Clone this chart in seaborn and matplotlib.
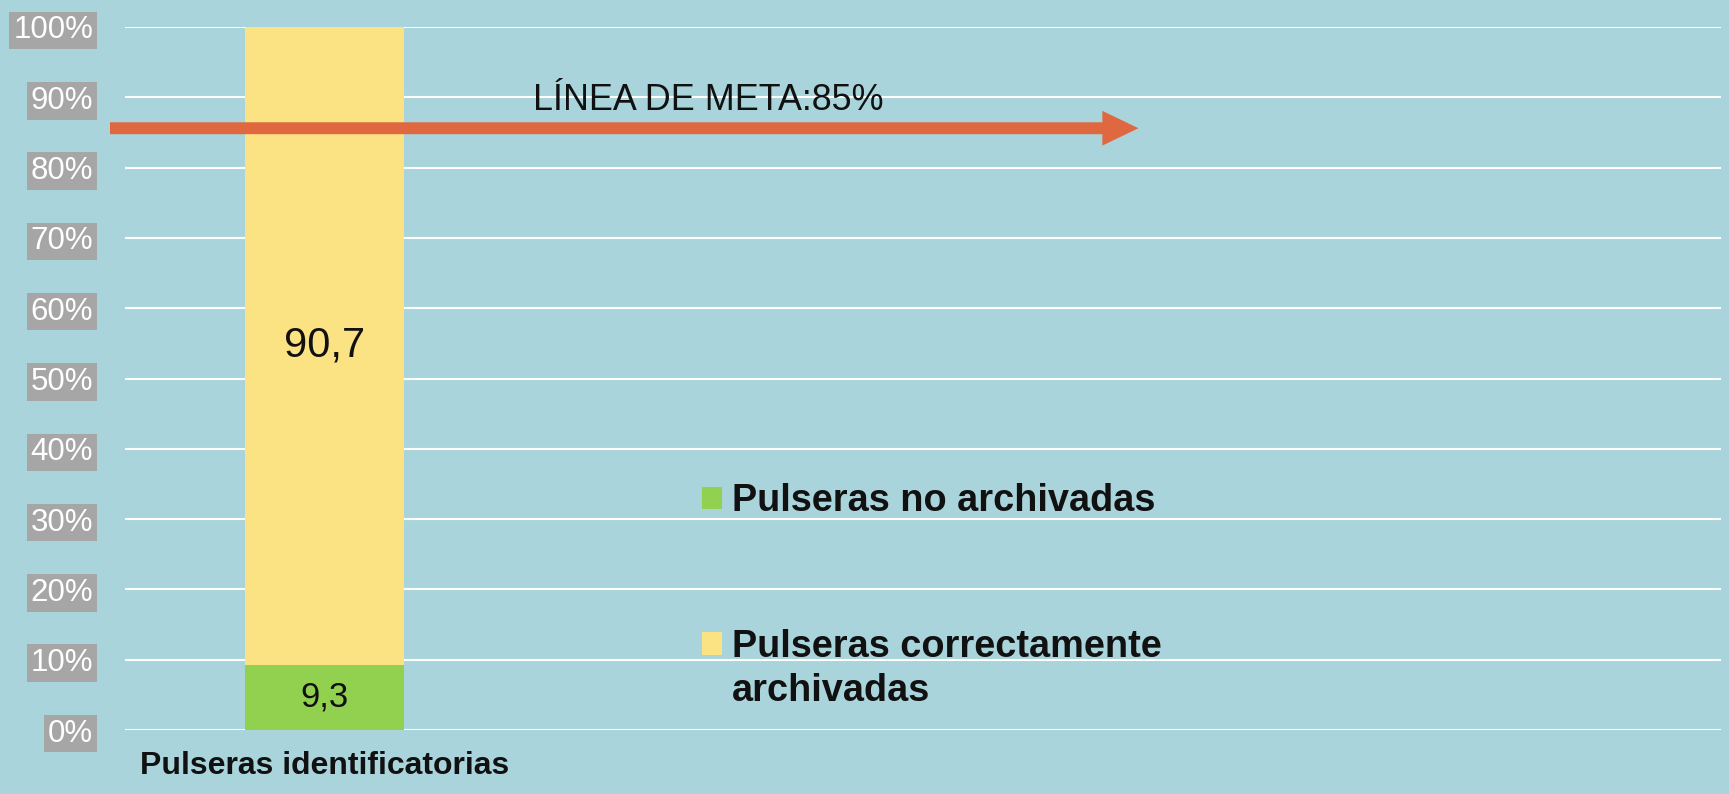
import matplotlib

matplotlib.use("Agg")
import matplotlib.pyplot as plt
import pandas as pd
import seaborn as sns
from matplotlib.patches import Patch

# data
categoria = ["Pulseras identificatorias"]
no_archivadas = [9.3]
archivadas = [90.7]
leyenda = ["Pulseras no archivadas", "Pulseras correctamente", "archivadas"]
meta = 85
meta_flecha = 85.6          # where the arrow sits in the picture
y_ticks = list(range(0, 101, 10))

BG, GREEN, YELLOW = "#aad4db", "#92d050", "#fbe283"
ORANGE, GREY, INK = "#e06840", "#a6a6a6", "#111111"

sns.set_theme(style="whitegrid")
plt.rcParams["font.family"] = ["Liberation Sans", "DejaVu Sans"]

df = pd.DataFrame({"categoria": categoria, "no": no_archivadas, "si": archivadas})
df["total"] = df["no"] + df["si"]

W, H = 1729, 794
fig = plt.figure(figsize=(W / 100, H / 100), dpi=100, facecolor=BG)
ax = fig.add_axes([125 / W, 1 - 730 / H, (1721 - 125) / W, (730 - 27) / H])
ax.set_facecolor(BG)

# stacked bar: total in yellow, green segment drawn over it
sns.barplot(data=df, x="categoria", y="total", color=YELLOW, width=0.2,
            saturation=1, errorbar=None, linewidth=0, ax=ax, zorder=3)
sns.barplot(data=df, x="categoria", y="no", color=GREEN, width=0.2,
            saturation=1, errorbar=None, linewidth=0, ax=ax, zorder=3)

ax.set_xlim(-0.25, 1.75)
ax.set_ylim(0, 100)
ax.set_axisbelow(True)
ax.yaxis.grid(True, color="white", lw=1.5)
ax.xaxis.grid(False)
for s in ax.spines.values():
    s.set_visible(False)

def coma(v):
    return f"{v:.1f}".replace(".", ",")

for i, (n, s) in enumerate(zip(df["no"], df["si"])):
    ax.text(i, n / 2, coma(n), ha="center", va="center", fontsize=25, color=INK, zorder=4)
    ax.text(i, n + s / 2, coma(s), ha="center", va="center", fontsize=30, color=INK, zorder=4)

# axes
ax.set_yticks(y_ticks)
ax.set_yticklabels([f"{t}%" for t in y_ticks])
ax.tick_params(axis="y", length=0, pad=23, labelsize=22.5, labelcolor="white")
for lbl in ax.get_yticklabels():
    lbl.set_bbox(dict(boxstyle="square,pad=0.12", fc=GREY, ec="none"))
ax.tick_params(axis="x", length=0, pad=15, labelsize=23, labelcolor=INK)
for lbl in ax.get_xticklabels():
    lbl.set_fontweight("bold")
ax.set_xlabel(""); ax.set_ylabel("")

# goal arrow
tr = ax.get_yaxis_transform()
ax.annotate("", xy=(0.635, meta_flecha), xycoords=tr,
            xytext=(-0.0094, meta_flecha), textcoords=tr,
            arrowprops=dict(arrowstyle="simple,head_length=2.6,head_width=2.5,tail_width=0.86",
                            fc=ORANGE, ec="none", lw=0, shrinkA=0, shrinkB=0,
                            mutation_scale=10),
            annotation_clip=False, zorder=5)
ax.text((533 - 125) / 1596, 88.2, f"LÍNEA DE META:{meta}%", transform=tr,
        fontsize=25.8, color=INK, va="baseline", ha="left")

# legend
handles = [Patch(fc=GREEN, ec="none"), Patch(fc=YELLOW, ec="none")]
leg = ax.legend(handles, leyenda[:2], loc="upper left",
                bbox_to_anchor=(702 / W, 1 - 483 / H), bbox_transform=fig.transFigure,
                frameon=False, prop=dict(weight="bold", size=27.3),
                handlelength=0.52, handleheight=0.52, handletextpad=0.27,
                labelspacing=2.9, borderpad=0, borderaxespad=0)
for t in leg.get_texts():
    t.set_color(INK)

fig.canvas.draw()
bb = leg.get_texts()[1].get_window_extent()
fig.text(bb.x0 / W, ((bb.y0 + bb.y1) / 2 - 44) / H, leyenda[2], ha="left", va="center",
         fontsize=27.3, fontweight="bold", color=INK)

fig.savefig("out.png", dpi=100, facecolor=BG)
plt.close(fig)
